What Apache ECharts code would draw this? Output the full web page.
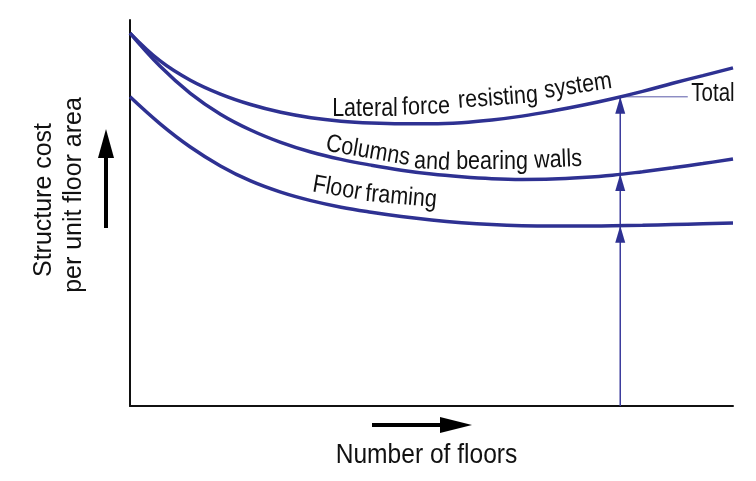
<!DOCTYPE html>
<html>
<head>
<meta charset="utf-8">
<script src="https://cdn.jsdelivr.net/npm/echarts@6/dist/echarts.min.js"></script>
<style>
  html, body { margin: 0; padding: 0; background: #fff; }
  #main { width: 756px; height: 481px; }
</style>
</head>
<body>
<div id="main"></div>
<script>
// number of floors (relative scale, 0-100)
const floorsX = [0, 5, 10, 15, 20, 25, 30, 35, 40, 45, 50, 55, 60, 65, 70, 75, 80, 85, 90, 95, 100];
// structure cost per unit floor area (relative)
const totalCost = [96.6, 89.4, 84.4, 80.8, 78.1, 76.1, 74.7, 73.8, 73.3, 73.1, 73.1,
  73.4, 74.1, 75.1, 76.4, 77.9, 79.6, 81.5, 83.6, 85.6, 87.6];
const columnsCost = [96.6, 88.0, 81.0, 75.6, 71.5, 68.3, 65.8, 63.9, 62.4, 61.1, 60.1,
  59.4, 58.9, 58.7, 58.8, 59.2, 59.8, 60.7, 61.7, 62.8, 64.0];
const floorCost = [80.1, 73.1, 67.1, 62.2, 58.3, 55.4, 53.2, 51.5, 50.2, 49.1, 48.2,
  47.5, 47.0, 46.7, 46.6, 46.6, 46.7, 46.8, 47.0, 47.2, 47.4];

// stacked arrow: where it sits and the level of each curve there
const arrowX = 81.3;
const arrowLevels = [46.7, 60.1, 80.1];
const totalLeaderEnd = 92.5;

const blue = '#2e3192';
const font = '"Liberation Sans", Arial, sans-serif';

function pairs(xs, ys) {
  return xs.map(function (x, i) { return [x, ys[i]]; });
}

function curve(name, values) {
  return {
    name: name,
    type: 'line',
    data: pairs(floorsX, values),
    smooth: 0.4,
    showSymbol: false,
    silent: true,
    lineStyle: { color: blue, width: 3.5 },
    z: 3
  };
}

// condensed text helper (the original uses a narrow sans)
function word(text, x, y, rot, size, sx) {
  return {
    type: 'text',
    x: x,
    y: y,
    rotation: rot || 0,
    scaleX: sx || 0.86,
    style: {
      text: text,
      font: (size || 25) + 'px ' + font,
      fill: '#111',
      align: 'center',
      verticalAlign: 'middle'
    },
    z: 10
  };
}

const chart = echarts.init(document.getElementById('main'), null, { renderer: 'canvas' });

const option = {
  animation: false,
  backgroundColor: '#fff',
  grid: { left: 130, right: 23, top: 20, bottom: 75 },
  xAxis: {
    type: 'value',
    min: 0,
    max: 100,
    axisLine: { show: true, lineStyle: { color: '#111', width: 2 } },
    axisTick: { show: false },
    axisLabel: { show: false },
    splitLine: { show: false }
  },
  yAxis: {
    type: 'value',
    min: 0,
    max: 100,
    axisLine: { show: true, lineStyle: { color: '#111', width: 2 } },
    axisTick: { show: false },
    axisLabel: { show: false },
    splitLine: { show: false }
  },
  series: [
    curve('Total', totalCost),
    curve('Columns and bearing walls', columnsCost),
    curve('Floor framing', floorCost),
    {
      // vertical stacking arrow
      type: 'line',
      data: [[arrowX, 0], [arrowX, arrowLevels[2]]],
      showSymbol: false,
      silent: true,
      lineStyle: { color: '#3b3b9c', width: 1.5 },
      z: 2
    },
    {
      // arrowheads, tip on each curve
      type: 'scatter',
      data: arrowLevels.map(function (v) { return [arrowX, v]; }),
      symbol: 'triangle',
      symbolSize: [10, 17],
      symbolOffset: [0, '50%'],
      silent: true,
      itemStyle: { color: blue, opacity: 1 },
      z: 4
    },
    {
      // leader to the "Total" label
      type: 'line',
      data: [[arrowX, arrowLevels[2]], [totalLeaderEnd, arrowLevels[2]]],
      showSymbol: false,
      silent: true,
      lineStyle: { color: '#5a5aa8', width: 1 },
      z: 2
    }
  ],
  graphic: [
    // curve labels, word by word to follow the bend
    word('Lateral', 365, 109, 0),
    word('force', 426, 107, 0.03),
    word('resisting', 498, 98, 0.075),
    word('system', 578, 86, 0.15),
    word('Columns', 368, 151, -0.17),
    word('and', 432, 162, -0.05),
    word('bearing', 492, 162, 0),
    word('walls', 558, 160, 0.04),
    word('Floor', 337, 188.5, -0.17),
    word('framing', 401, 197, -0.09),
    word('Total', 713, 94, 0, 25, 0.82),
    // axis titles
    word('Number of floors', 426.5, 456, 0, 27, 0.91),
    word('Structure cost', 44, 200, Math.PI / 2, 26, 0.96),
    word('per unit floor area', 74, 195, Math.PI / 2, 26, 0.96),
    // axis direction arrows
    {
      type: 'line',
      shape: { x1: 106, y1: 228, x2: 106, y2: 152 },
      style: { stroke: '#000', lineWidth: 4 }
    },
    {
      type: 'polygon',
      shape: { points: [[106, 129], [98, 158], [114, 158]] },
      style: { fill: '#000' }
    },
    {
      type: 'line',
      shape: { x1: 372, y1: 425, x2: 446, y2: 425 },
      style: { stroke: '#000', lineWidth: 4 }
    },
    {
      type: 'polygon',
      shape: { points: [[472, 425], [440, 417], [440, 433]] },
      style: { fill: '#000' }
    }
  ]
};

chart.setOption(option);
</script>
</body>
</html>
